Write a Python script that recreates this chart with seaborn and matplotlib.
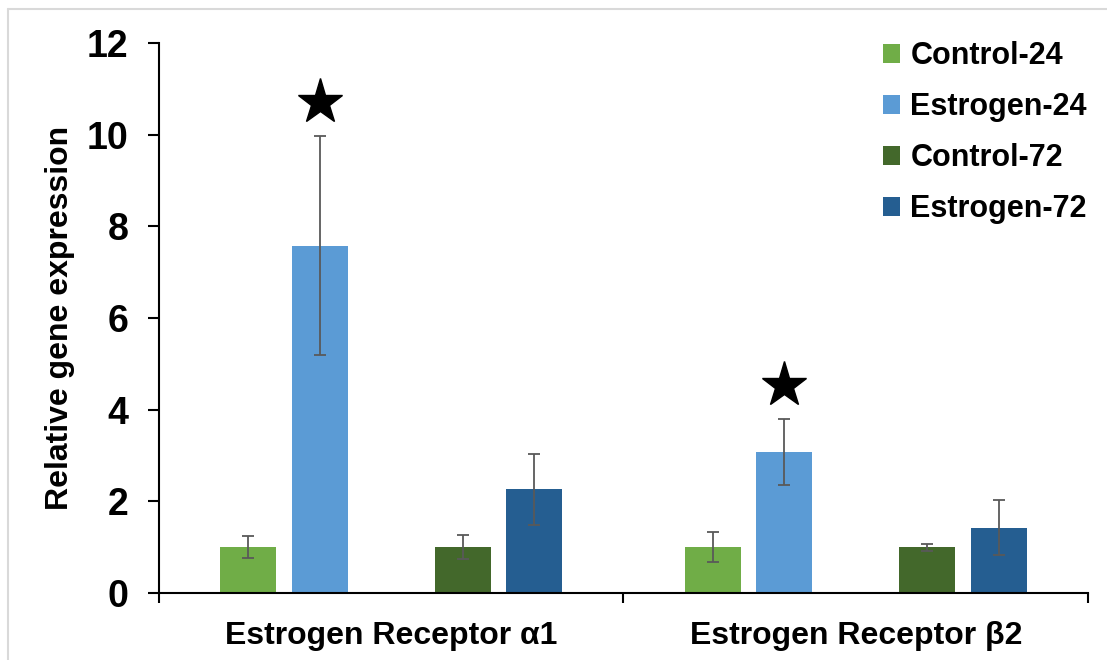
import matplotlib
matplotlib.use("Agg")
import matplotlib.pyplot as plt
from matplotlib.patches import Patch
from matplotlib.lines import Line2D
import pandas as pd
import seaborn as sns

# Relative expression (mean) and error (SD) per gene for each treatment group
genes = ["Estrogen Receptor α1", "Estrogen Receptor β2"]
groups = ["Control-24", "Estrogen-24", "Control-72", "Estrogen-72"]
control_24 = [1.00, 1.00]
estrogen_24 = [7.58, 3.08]
control_72 = [1.00, 1.00]
estrogen_72 = [2.26, 1.42]
err_control_24 = [0.24, 0.33]
err_estrogen_24 = [2.39, 0.72]
err_control_72 = [0.26, 0.08]
err_estrogen_72 = [0.78, 0.60]
significant_estrogen_24 = [True, True]
y_ticks = [0, 2, 4, 6, 8, 10, 12]

colors = {
    "Control-24": "#70AD47",
    "Estrogen-24": "#5B9BD5",
    "Control-72": "#43682B",
    "Estrogen-72": "#255E91",
}
spacer = " "  # empty slot separating the 24 h and 72 h bars

sns.set_style("white")
plt.rcParams["font.family"] = ["Liberation Sans", "DejaVu Sans"]
plt.rcParams["font.weight"] = "bold"
plt.rcParams["axes.labelweight"] = "bold"
plt.rcParams["text.color"] = "black"
plt.rcParams["axes.labelcolor"] = "black"
plt.rcParams["xtick.color"] = "black"
plt.rcParams["ytick.color"] = "black"

series = [control_24, estrogen_24, control_72, estrogen_72]
series_err = [err_control_24, err_estrogen_24, err_control_72, err_estrogen_72]
rows = []
for gi, gene in enumerate(genes):
    for name, vals, errs in zip(groups, series, series_err):
        rows.append({"gene": gene, "group": name, "value": vals[gi], "err": errs[gi]})
df = pd.DataFrame(rows)

fig = plt.figure(figsize=(11.07, 6.6), dpi=100)
ax = fig.add_axes([0.1436, 0.1015, 0.8392, 0.8333])

hue_order = ["Control-24", "Estrogen-24", spacer, "Control-72", "Estrogen-72"]
palette = dict(colors)
palette[spacer] = "white"
sns.barplot(data=df, x="gene", y="value", hue="group", hue_order=hue_order,
            order=genes, palette=palette, saturation=1, width=0.77, gap=0.217,
            errorbar=None, legend=False, linewidth=0, ax=ax)

# Error bars and significance stars placed on the drawn bars
bars = sorted([p for p in ax.patches if p.get_height() > 0], key=lambda p: p.get_x())
xs = [p.get_x() + p.get_width() / 2 for p in bars]
ax.errorbar(xs, df["value"], yerr=df["err"], fmt="none", ecolor="#595959",
            elinewidth=1.3, capsize=4.3, capthick=1.3, zorder=3)

for gi in range(len(genes)):
    if significant_estrogen_24[gi]:
        idx = gi * len(groups) + groups.index("Estrogen-24")
        ax.plot([xs[idx]], [estrogen_24[gi] + err_estrogen_24[gi] + 0.74],
                marker="*", markersize=34, color="black", linestyle="none", zorder=4)

ax.set_xlim(-0.5, 1.5)
ax.set_ylim(0, 12)
ax.set_yticks(y_ticks)
ax.set_yticklabels([str(t) for t in y_ticks], fontsize=27, fontweight="bold", color="black")
ax.set_xticks([0, 1])
ax.set_xticklabels(genes, fontsize=23, fontweight="bold", color="black")
ax.set_xticks([-0.5, 0.5, 1.5], minor=True)
ax.set_xlabel("")
ax.set_ylabel("Relative gene expression", fontsize=23, fontweight="bold", color="black")
ax.yaxis.set_label_coords(-0.090, 0.5)

for side in ["top", "right"]:
    ax.spines[side].set_visible(False)
for side in ["left", "bottom"]:
    ax.spines[side].set_color("black")
    ax.spines[side].set_linewidth(1.5)

ax.tick_params(axis="y", direction="out", length=8, width=1.5, pad=14,
               left=True, color="black")
ax.tick_params(axis="x", which="major", length=0, pad=20)
ax.tick_params(axis="x", which="minor", direction="out", length=7, width=1.5,
               bottom=True, color="black")

handles = [Patch(facecolor=colors[g], edgecolor="none") for g in groups]
leg = ax.legend(handles, groups, loc="upper left", bbox_to_anchor=(0.779, 1.004),
                frameon=False, prop={"family": "Liberation Sans", "weight": "bold", "size": 22},
                handlelength=0.58, handleheight=0.58, handletextpad=0.33,
                labelspacing=0.69, borderpad=0, borderaxespad=0)
for t in leg.get_texts():
    t.set_color("black")

# Light frame along the top and left edges of the canvas
frame_kw = dict(color="#D9D9D9", linewidth=1.5, transform=fig.transFigure)
fig.add_artist(Line2D([8 / 1107, 8 / 1107], [0, (660 - 9) / 660], **frame_kw))
fig.add_artist(Line2D([8 / 1107, 1], [(660 - 9) / 660, (660 - 9) / 660], **frame_kw))

fig.savefig("out.png", dpi=100)
